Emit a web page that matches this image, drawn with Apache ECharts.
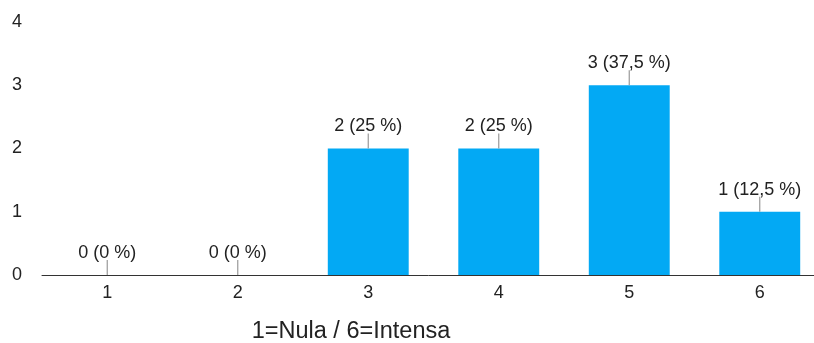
<!DOCTYPE html>
<html>
<head>
<meta charset="utf-8">
<script src="https://cdn.jsdelivr.net/npm/echarts@6/dist/echarts.min.js"></script>
<style>
  html, body { margin: 0; padding: 0; background: #fff; }
  #chart { width: 814px; height: 343px; }
</style>
</head>
<body>
<div id="chart"></div>
<script>
// Rating scale responses (1 = none, 6 = intense)
const categories = ['1', '2', '3', '4', '5', '6'];
const counts = [0, 0, 2, 2, 3, 1];
const yTicks = [0, 1, 2, 3, 4];
const axisTitle = '1=Nula / 6=Intensa';

const total = counts.reduce((a, b) => a + b, 0);
const pctText = v => {
  const p = Math.round(v / total * 1000) / 10;
  return String(p).replace('.', ',') + ' %';
};

const FONT = 'Liberation Sans, Arial, sans-serif';
const chart = echarts.init(document.getElementById('chart'), null, { renderer: 'canvas' });

chart.setOption({
  animation: false,
  // plot area runs a little past the right edge of the canvas
  grid: {
    left: 42, width: 783, top: 22, bottom: 68,
    containLabel: false, outerBoundsMode: 'none'
  },
  xAxis: {
    type: 'category',
    data: categories,
    axisLine: { lineStyle: { color: '#333', width: 1 } },
    axisTick: { show: false },
    axisLabel: { color: '#222', fontSize: 18, fontFamily: FONT, margin: 9 }
  },
  yAxis: {
    type: 'value',
    min: yTicks[0],
    max: yTicks[yTicks.length - 1],
    interval: 1,
    axisLine: { show: false },
    axisTick: { show: false },
    splitLine: { show: false },
    axisLabel: { color: '#222', fontSize: 18, fontFamily: FONT, margin: 20, align: 'right' }
  },
  series: [
    {
      type: 'bar',
      data: counts,
      barCategoryGap: '38%',
      itemStyle: { color: '#03a9f4' },
      label: {
        show: true,
        position: 'top',
        distance: 13,
        color: '#222',
        fontSize: 18,
        fontFamily: FONT,
        formatter: p => p.value + ' (' + pctText(p.value) + ')'
      },
      z: 2
    },
    {
      // short leader lines from each bar top to its label
      type: 'custom',
      data: counts.map((v, i) => [i, v]),
      renderItem: (params, api) => {
        const pt = api.coord([api.value(0), api.value(1)]);
        return {
          type: 'line',
          shape: { x1: pt[0], y1: pt[1], x2: pt[0], y2: pt[1] - 15 },
          style: { stroke: '#999', lineWidth: 1.2 }
        };
      },
      silent: true,
      z: 3
    }
  ],
  graphic: [
    {
      type: 'text',
      x: 351,
      y: 332,
      style: {
        text: axisTitle,
        fill: '#222',
        font: '23.5px ' + FONT,
        textAlign: 'center',
        textVerticalAlign: 'middle'
      }
    }
  ]
});
</script>
</body>
</html>
